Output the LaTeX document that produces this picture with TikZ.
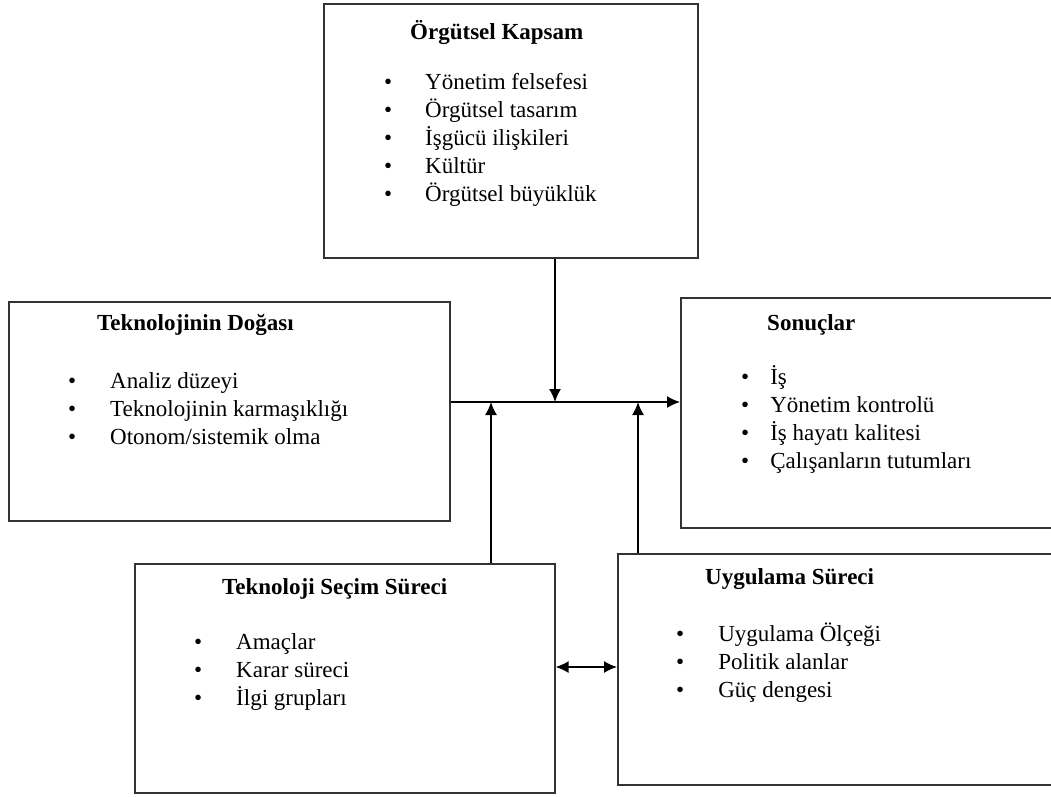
\documentclass[tikz,border=0pt]{standalone}
\usepackage{fontspec}
\setmainfont{Liberation Serif}
\usetikzlibrary{arrows.meta,positioning}

\tikzset{
  box/.style={draw=black!80, line width=1.6pt, anchor=north west, inner sep=0pt},
  title/.style={anchor=base west, inner sep=0pt, font=\fontsize{23}{28}\selectfont\bfseries},
  items/.style={anchor=north west, inner sep=0pt, font=\fontsize{23}{28}\selectfont},
  conn/.style={line width=1.5pt, -{Latex[length=13pt,width=12pt]}}
}

\begin{document}
\begin{tikzpicture}[x=1pt, y=-1pt]
  \fill[white] (0,0) rectangle (1051,796);
  \useasboundingbox (0,0) rectangle (1051,796);

  % boxes
  \node[box, minimum width=374pt, minimum height=254pt] (kapsam) at (323,3) {};
  \node[box, minimum width=441pt, minimum height=219pt] (dogasi) at (8,301) {};
  \node[box, minimum width=380pt, minimum height=230pt] (sonuc) at (680,297) {};
  \node[box, minimum width=420pt, minimum height=229pt] (secim) at (134,563) {};
  \node[box, minimum width=440pt, minimum height=231pt] (uygulama) at (617,553) {};

  % titles
  \node[title] (kapsam-t) at (410,39) {Örgütsel Kapsam};
  \node[title] (dogasi-t) at (97,330) {Teknolojinin Doğası};
  \node[title] (sonuc-t) at (767,330) {Sonuçlar};
  \node[title] (secim-t) at (222,594) {Teknoloji Seçim Süreci};
  \node[title] (uygulama-t) at (705,584) {Uygulama Süreci};

  % bullet lists
  \node[items] (kapsam-l) at (384,70) {\begin{tabular}{@{}l@{\hspace{33pt}}l@{}}
    \textbullet & Yönetim felsefesi\\
    \textbullet & Örgütsel tasarım\\
    \textbullet & İşgücü ilişkileri\\
    \textbullet & Kültür\\
    \textbullet & Örgütsel büyüklük
  \end{tabular}};
  \node[items] (dogasi-l) at (68,369) {\begin{tabular}{@{}l@{\hspace{34pt}}l@{}}
    \textbullet & Analiz düzeyi\\
    \textbullet & Teknolojinin karmaşıklığı\\
    \textbullet & Otonom/sistemik olma
  \end{tabular}};
  \node[items] (sonuc-l) at (741,365) {\begin{tabular}{@{}l@{\hspace{21pt}}l@{}}
    \textbullet & İş\\
    \textbullet & Yönetim kontrolü\\
    \textbullet & İş hayatı kalitesi\\
    \textbullet & Çalışanların tutumları
  \end{tabular}};
  \node[items] (secim-l) at (194,630) {\begin{tabular}{@{}l@{\hspace{34pt}}l@{}}
    \textbullet & Amaçlar\\
    \textbullet & Karar süreci\\
    \textbullet & İlgi grupları
  \end{tabular}};
  \node[items] (uygulama-l) at (676,622) {\begin{tabular}{@{}l@{\hspace{34pt}}l@{}}
    \textbullet & Uygulama Ölçeği\\
    \textbullet & Politik alanlar\\
    \textbullet & Güç dengesi
  \end{tabular}};

  % connectors
  \coordinate (hub) at (0,402);
  \coordinate (down) at (555,402);
  \coordinate (up1) at (491,402);
  \coordinate (up2) at (638,402);
  \coordinate (both) at (0,667);
  \draw[conn] (dogasi.east |- hub) -- (sonuc.west |- hub);
  \draw[conn] (kapsam.south -| down) -- (down);
  \draw[conn] (secim.north -| up1) -- (up1);
  \draw[conn] (uygulama.north -| up2) -- (up2);
  \draw[conn, {Latex[length=13pt,width=12pt]}-{Latex[length=13pt,width=12pt]}] (secim.east |- both) -- (uygulama.west |- both);
\end{tikzpicture}
\end{document}
